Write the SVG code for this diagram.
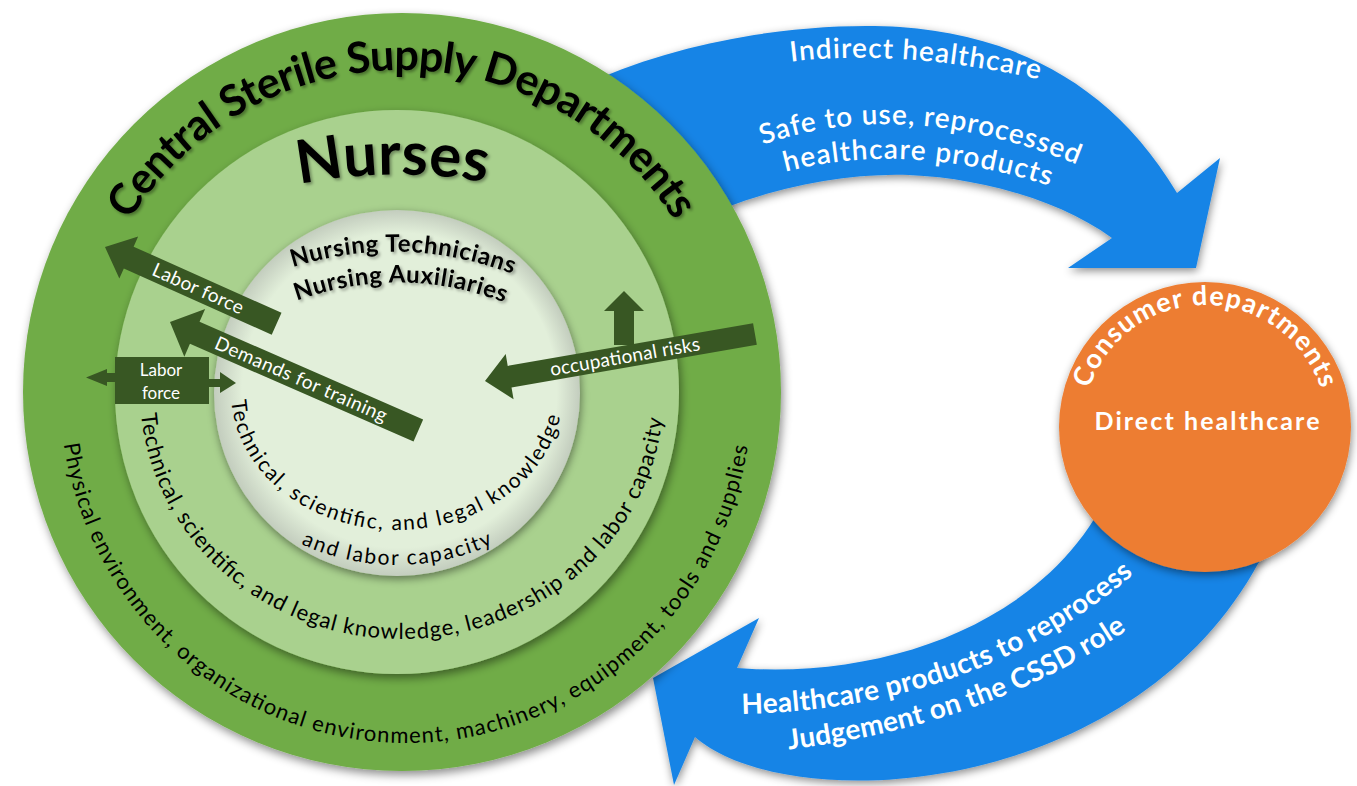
<svg xmlns="http://www.w3.org/2000/svg" width="1357" height="786" viewBox="0 0 1357 786">
<style>
.blk{font-family:Lato,"Liberation Sans",sans-serif;fill:#000}
.wht{font-family:Lato,"Liberation Sans",sans-serif;fill:#fff}
.dg{fill:#385723}
.blue{fill:#1784E6}
</style>
<defs>
<filter id="sh" x="-10%" y="-10%" width="125%" height="125%"><feDropShadow dx="2" dy="4" stdDeviation="5" flood-color="#000" flood-opacity="0.45"/></filter>
<filter id="sh2" x="-10%" y="-10%" width="125%" height="125%"><feDropShadow dx="1" dy="3" stdDeviation="4" flood-color="#000" flood-opacity="0.45"/></filter>
<filter id="tsh" x="-10%" y="-10%" width="130%" height="140%"><feDropShadow dx="2" dy="2" stdDeviation="1.5" flood-color="#000" flood-opacity="0.35"/></filter>
<radialGradient id="innerG" cx="50%" cy="50%" r="50%" fx="55%" fy="45%">
<stop offset="0.86" stop-color="#E2EFDA"/>
<stop offset="1" stop-color="#C3CDBE"/>
</radialGradient>
<path id="pCSSD" d="M 80 392 A 322 322 0 0 1 724 392"/>
<path id="pPhys" d="M 60 392 A 346 351 0 0 0 752 392"/>
<path id="pMid" d="M 140 392 A 262 247 0 0 0 664 392"/>
<path id="pIn1" d="M 231 392 A 166 138 0 0 0 563 392"/>
<path id="pIn2" d="M 167 335 A 230 230 0 0 0 627 335"/>
<path id="pNurses" d="M 290 186 Q 393 164 495 184"/>
<path id="pTech" d="M 290 268 Q 403 232 515 275"/>
<path id="pAux" d="M 293 302 Q 402 262 508 304"/>
<path id="pCons" d="M 1083 427 A 122 122 0 0 1 1327 427"/>
<path id="pInd" d="M 788 62 Q 900 48 1042 80"/>
<path id="pSafe" d="M 762 145 Q 905 95 1078 165"/>
<path id="pHcp" d="M 785 172 Q 905 140 1050 186"/>
<path id="pRep" d="M 740 714 Q 975 710 1135 573"/>
<path id="pJud" d="M 785 750 Q 990 725 1130 628"/>
</defs>
<rect width="1357" height="786" fill="#fff"/>

<g id="connectors">
<path class="blue" filter="url(#sh2)" d="M 560 110 L 600 78 C 700 35 820 22 900 27 C 1010 35 1110 80 1177 193 L 1220 158 L 1196 268 L 1068 268 L 1112 238 C 1060 200 980 178 909 175 C 850 173 780 185 715 212 L 640 250 Z"/>
<path class="blue" filter="url(#sh2)" d="M 1110 490 C 1050 620 890 680 737 668 L 759 618 L 653 678 L 674 785 L 695 737 C 790 820 1150 800 1270 540 Z"/>
<text class="wht" font-size="28" font-weight="600"><textPath href="#pInd" startOffset="50%" text-anchor="middle" textLength="250" lengthAdjust="spacing">Indirect healthcare</textPath></text>
<text class="wht" font-size="28" font-weight="600"><textPath href="#pSafe" startOffset="50%" text-anchor="middle" textLength="322" lengthAdjust="spacing">Safe to use, reprocessed</textPath></text>
<text class="wht" font-size="28" font-weight="600"><textPath href="#pHcp" startOffset="50%" text-anchor="middle" textLength="268" lengthAdjust="spacing">healthcare products</textPath></text>
<text class="wht" font-size="28" font-weight="700"><textPath href="#pRep" startOffset="50%" text-anchor="middle" textLength="425" lengthAdjust="spacing">Healthcare products to reprocess</textPath></text>
<text class="wht" font-size="28" font-weight="700"><textPath href="#pJud" startOffset="50%" text-anchor="middle" textLength="362" lengthAdjust="spacing">Judgement on the CSSD role</textPath></text>
</g>

<g id="cssd">
<circle cx="402" cy="392" r="379" fill="#6FAC46" filter="url(#sh)"/>
<text class="blk" font-size="43" font-weight="700" filter="url(#tsh)"><textPath href="#pCSSD" startOffset="50%" text-anchor="middle" textLength="650" lengthAdjust="spacing">Central Sterile Supply Departments</textPath></text>
<text class="blk" font-size="22"><textPath href="#pPhys" startOffset="49.9%" text-anchor="middle" textLength="988" lengthAdjust="spacing">Physical environment, organizational environment, machinery, equipment, tools and supplies</textPath></text>
</g>

<g id="nurses">
<circle cx="397" cy="392" r="282" fill="#A9D18E" filter="url(#sh)"/>
<text class="blk" font-size="60" font-weight="700" filter="url(#tsh)"><textPath href="#pNurses" startOffset="50%" text-anchor="middle" textLength="188" lengthAdjust="spacing">Nurses</textPath></text>
<text class="blk" font-size="22"><textPath href="#pMid" startOffset="49.7%" text-anchor="middle" textLength="751" lengthAdjust="spacing">Technical, scientific, and legal knowledge, leadership and labor capacity</textPath></text>
</g>

<g id="technicians">
<circle cx="397" cy="393" r="183" fill="url(#innerG)" filter="url(#sh2)"/>
<text class="blk" font-size="24" font-weight="700" filter="url(#tsh)"><textPath href="#pTech" startOffset="50%" text-anchor="middle" textLength="224" lengthAdjust="spacing">Nursing Technicians</textPath></text>
<text class="blk" font-size="24" font-weight="700" filter="url(#tsh)"><textPath href="#pAux" startOffset="50%" text-anchor="middle" textLength="212" lengthAdjust="spacing">Nursing Auxiliaries</textPath></text>
<text class="blk" font-size="21"><textPath href="#pIn1" startOffset="48.3%" text-anchor="middle" textLength="445" lengthAdjust="spacing">Technical, scientific, and legal knowledge</textPath></text>
<text class="blk" font-size="21"><textPath href="#pIn2" startOffset="50%" text-anchor="middle" textLength="198" lengthAdjust="spacing">and labor capacity</textPath></text>
</g>

<g id="consumer">
<ellipse cx="1205" cy="427" rx="146" ry="145" fill="#ED7D31" filter="url(#sh2)"/>
<text class="wht" font-size="27" font-weight="700"><textPath href="#pCons" startOffset="50%" text-anchor="middle" textLength="305" lengthAdjust="spacing">Consumer departments</textPath></text>
<text class="wht" x="1207" y="430" font-size="25" font-weight="700" text-anchor="middle" textLength="225" lengthAdjust="spacing">Direct healthcare</text>
</g>

<g id="inner-connectors">
<g transform="translate(105 247) rotate(24.1)">
<polygon class="dg" points="0,0 26,-23 26,-12 188,-12 188,12 26,12 26,23"/>
<text class="wht" x="102" y="6.5" font-size="19" text-anchor="middle" textLength="98" lengthAdjust="spacing">Labor force</text>
</g>
<g transform="translate(170 322) rotate(23.6)">
<polygon class="dg" points="0,0 27,-26 27,-12 271,-12 271,12 27,12 27,26"/>
<text class="wht" x="143" y="6.5" font-size="19" text-anchor="middle" textLength="186" lengthAdjust="spacing">Demands for training</text>
</g>
<polygon class="dg" points="624,291 644,311 634,311 634,345 614,345 614,311 604,311"/>
<g transform="translate(485 381) rotate(-9.87)">
<polygon class="dg" points="0,0 25,-23 25,-11 274,-11 274,11 25,11 25,23"/>
<text class="wht" x="142" y="6.5" font-size="19" text-anchor="middle" textLength="152" lengthAdjust="spacing">occupational risks</text>
</g>
<g>
<rect class="dg" x="115" y="357" width="94" height="47"/>
<polygon class="dg" points="116,373 107,373 107,369 86,377.5 107,386 107,382 116,382"/>
<polygon class="dg" points="208,379 220,379 220,372 236,383 220,393 220,387 208,387"/>
<text class="wht" x="161" y="376" font-size="17" text-anchor="middle">Labor</text>
<text class="wht" x="161" y="399" font-size="17" text-anchor="middle">force</text>
</g>
</g>
</svg>
